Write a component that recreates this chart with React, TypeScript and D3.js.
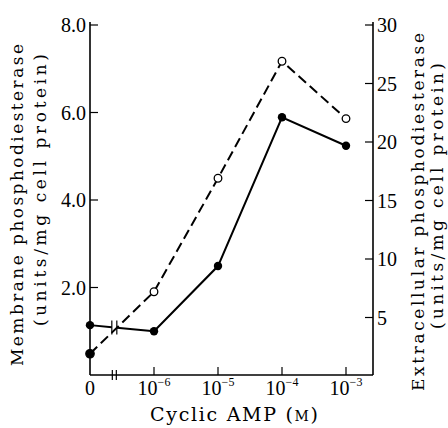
import React from "react";
import * as d3 from "d3";

const concentrations = [0, 1e-6, 1e-5, 1e-4, 1e-3];
const xTickLabels = [
  { base: "0", exp: "" },
  { base: "10", exp: "−6" },
  { base: "10", exp: "−5" },
  { base: "10", exp: "−4" },
  { base: "10", exp: "−3" },
];
const membraneValues = [1.14, 1.0, 2.49, 5.89, 5.24];
const extracellularValues = [1.9, 7.2, 16.9, 26.9, 22.0];
const leftTicks = [2.0, 4.0, 6.0, 8.0];
const rightTicks = [5, 10, 15, 20, 25, 30];

const W = 448;
const H = 428;
const left = 90;
const right = 373;
const bottom = 375;
const top = 22;

const tickFont = "'Liberation Serif', serif";
const titleFont = "'DejaVu Serif', serif";

export default function App() {
  const xLog = d3.scaleLog().domain([1e-7, 1e-3]).range([left, 346]);
  const x = (c: number) => (c === 0 ? xLog(1e-7) : xLog(c));
  const yL = d3.scaleLinear().domain([0, 8]).range([bottom, 25]);
  const yR = d3.scaleLinear().domain([0, 30]).range([bottom + 1, 25]);

  const lineR = d3
    .line<number>()
    .x((_, i) => x(concentrations[i]))
    .y((d) => yR(d));
  const lineLRest = d3
    .line<number>()
    .x((_, i) => x(concentrations[i + 1]))
    .y((d) => yL(d));

  const breakX = x(0) + (x(1e-6) - x(0)) * 0.38;
  const segA = [0, 1].map((i) => [x(concentrations[i]), yL(membraneValues[i])]);
  const slope = (segA[1][1] - segA[0][1]) / (segA[1][0] - segA[0][0]);
  const yAt = (xx: number) => segA[0][1] + slope * (xx - segA[0][0]);
  const gap = 2.5;

  return (
    <svg width={W} height={H} style={{ position: "absolute", left: 0, top: 0, background: "#fff" }}>
      <g fill="none" stroke="#000">
        <line x1={left} y1={top} x2={left} y2={bottom} strokeWidth={1.6} />
        <line x1={right} y1={top} x2={right} y2={bottom} strokeWidth={1.6} />
        <line x1={left} y1={bottom} x2={right} y2={bottom} strokeWidth={1.6} />
        <line x1={breakX - 2} y1={bottom - 5} x2={breakX - 2} y2={bottom + 5} strokeWidth={1.2} />
        <line x1={breakX + 2} y1={bottom - 5} x2={breakX + 2} y2={bottom + 5} strokeWidth={1.2} />
        {concentrations.slice(1).map((c) => (
          <line key={c} x1={x(c)} x2={x(c)} y1={bottom} y2={bottom - 8} strokeWidth={1.2} />
        ))}
        {leftTicks.map((t) => (
          <line key={t} x1={left} x2={left + 8} y1={yL(t)} y2={yL(t)} strokeWidth={1.2} />
        ))}
        {rightTicks.map((t) => (
          <line key={t} x1={right} x2={right - 8} y1={yR(t)} y2={yR(t)} strokeWidth={1.2} />
        ))}

        <path d={lineR(extracellularValues) || ""} strokeWidth={2} strokeDasharray="10,5" />

        <line x1={segA[0][0]} y1={segA[0][1]} x2={breakX - gap} y2={yAt(breakX - gap)} strokeWidth={2} />
        <line x1={breakX + gap} y1={yAt(breakX + gap)} x2={segA[1][0]} y2={segA[1][1]} strokeWidth={2} />
        <line x1={breakX - gap} y1={yAt(breakX) - 7} x2={breakX - gap} y2={yAt(breakX) + 7} strokeWidth={1.2} />
        <line x1={breakX + gap} y1={yAt(breakX) - 7} x2={breakX + gap} y2={yAt(breakX) + 7} strokeWidth={1.2} />
        <path d={lineLRest(membraneValues.slice(1)) || ""} strokeWidth={2} />
      </g>

      {membraneValues.map((v, i) => (
        <circle key={"m" + i} cx={x(concentrations[i])} cy={yL(v)} r={4.2} fill="#000" />
      ))}
      {extracellularValues.map((v, i) => (
        <circle
          key={"e" + i}
          cx={x(concentrations[i])}
          cy={yR(v)}
          r={i === 0 ? 4.2 : 3.8}
          fill={i === 0 ? "#000" : "#fff"}
          stroke="#000"
          strokeWidth={1.3}
        />
      ))}

      <g fontFamily={tickFont} fill="#000">
        {leftTicks.map((t) => (
          <text key={t} x={86} y={yL(t)} fontSize={20} textAnchor="end" dominantBaseline="central">
            {d3.format(".1f")(t)}
          </text>
        ))}
        {rightTicks.map((t) => (
          <text key={t} x={377} y={yR(t)} fontSize={20} textAnchor="start" dominantBaseline="central">
            {t}
          </text>
        ))}
        {xTickLabels.map((l, i) => (
          <text key={i} x={x(concentrations[i])} y={395} fontSize={20} textAnchor="middle">
            <tspan>{l.base}</tspan>
            {l.exp && (
              <tspan fontSize={12} dy={-9}>
                {l.exp}
              </tspan>
            )}
          </text>
        ))}
      </g>

      <g fontFamily={titleFont} fill="#000">
        <text x={234} y={421} fontSize={19} textAnchor="middle" textLength={168} lengthAdjust="spacing">
          Cyclic AMP (<tspan fontSize={14}>M</tspan>)
        </text>
        <text
          transform="translate(17,205) rotate(-90)"
          fontSize={17}
          textAnchor="middle"
          dominantBaseline="central"
          textLength={322}
          lengthAdjust="spacing"
        >
          Membrane phosphodiesterase
        </text>
        <text
          transform="translate(40,190) rotate(-90)"
          fontSize={17}
          textAnchor="middle"
          dominantBaseline="central"
          textLength={272}
          lengthAdjust="spacing"
        >
          (units/mg cell protein)
        </text>
        <text
          transform="translate(418,212) rotate(-90)"
          fontSize={17}
          textAnchor="middle"
          dominantBaseline="central"
          textLength={358}
          lengthAdjust="spacing"
        >
          Extracellular phosphodiesterase
        </text>
        <text
          transform="translate(437,196) rotate(-90)"
          fontSize={17}
          textAnchor="middle"
          dominantBaseline="central"
          textLength={266}
          lengthAdjust="spacing"
        >
          (units/mg cell protein)
        </text>
      </g>
    </svg>
  );
}
